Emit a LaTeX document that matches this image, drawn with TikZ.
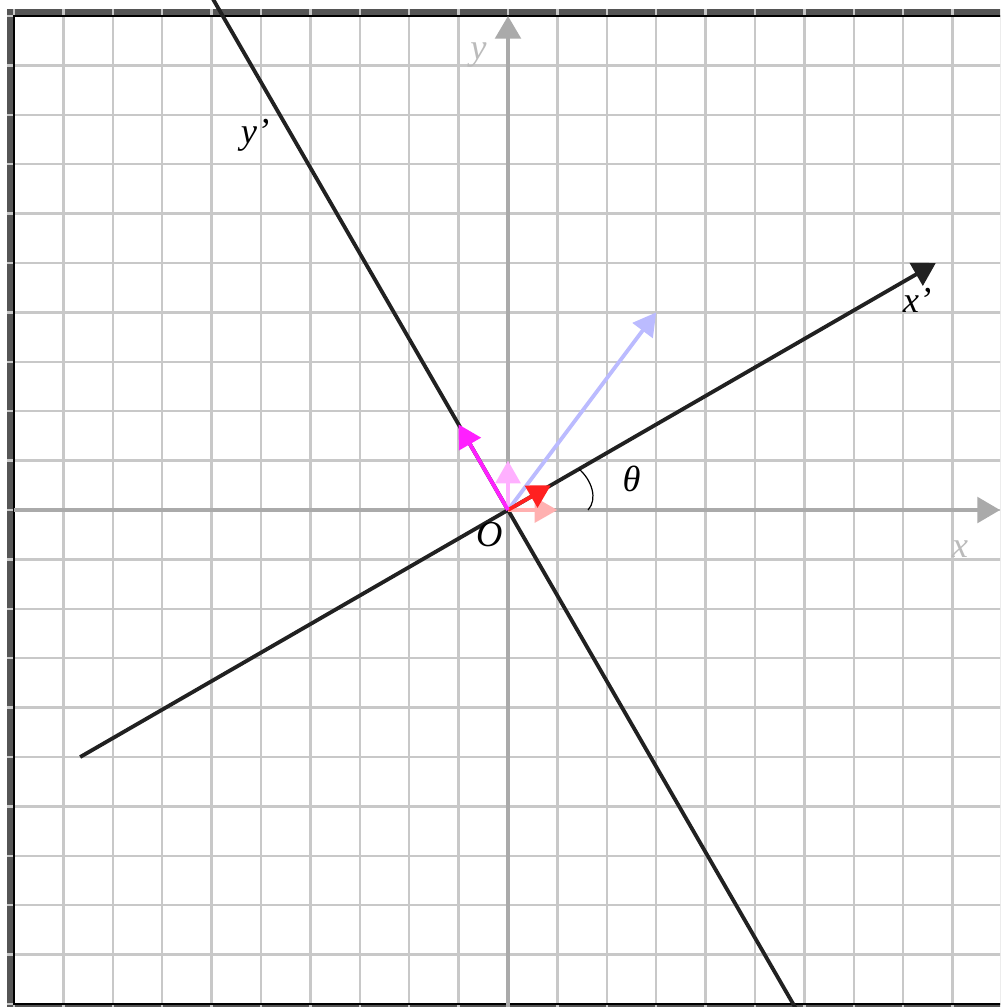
\documentclass[tikz,border=0pt]{standalone}
\usepackage{fontspec}
\setmainfont{Liberation Serif}
\usetikzlibrary{arrows.meta}
\definecolor{marco}{HTML}{555555}
\definecolor{rejillagris}{HTML}{C8C8C8}
\definecolor{ejegris}{HTML}{AAAAAA}
\definecolor{rotulogris}{HTML}{BBBBBB}
\definecolor{lavanda}{HTML}{BBBBFF}
\definecolor{rosa}{HTML}{FFB0FF}
\definecolor{rojoclaro}{HTML}{FFB0B0}
\definecolor{rojo}{HTML}{FF2020}
\definecolor{fucsia}{HTML}{FF20FF}
\tikzset{
  rejilla/.style  = {draw=rejillagris, line width=1.4pt},
  eje/.style      = {draw=ejegris, line width=2pt, -{Triangle[length=4.6mm, width=5.2mm]}},
  ejerot/.style   = {draw=black!87, line width=2.2pt},
  vector/.style   = {line width=2.2pt, -{Triangle[length=4.6mm, width=5mm]}},
  etiqueta/.style = {font=\fontsize{21}{25}\selectfont\itshape, inner sep=0pt},
  flecha/.style   = {-{Triangle[length=4.6mm, width=5.2mm]}}
}

\begin{document}
\begin{tikzpicture}
    \clip (-10.283,-10.06) rectangle (9.96,10.324);
    \fill[marco] (-10.14,-10.3) rectangle (10.3,10.14);
    \fill[white] (-10,-10) rectangle (10,10);
    \draw[rejilla] (-10.14,-10.3) grid (10.3,10.14);
    \draw[black, line width=0.7pt] (-10,-10) rectangle (10,10);

    \coordinate (O) at (0,0);
    \coordinate (xizq) at (-10,0);
    \coordinate (xder) at (9.96,0);
    \coordinate (yinf) at (0,-10.3);
    \coordinate (ysup) at (0,10);
    \coordinate (xpini) at (210:10);
    \coordinate (xpfin) at (30:10);
    \coordinate (ypini) at (300:12);
    \coordinate (ypfin) at (120:12);
    \coordinate (ex) at (1,0);
    \coordinate (ey) at (0,1);
    \coordinate (u) at (3,4);
    \coordinate (exp) at (30:1);
    \coordinate (eyp) at (120:2);

    \draw[eje] (xizq) -- (xder);
    \draw[eje] (yinf) -- (ysup);
    \draw[ejerot, flecha] (xpini) -- (xpfin);
    \draw[ejerot] (ypini) -- (ypfin);
    \draw[vector, rojoclaro] (O) -- (ex);
    \draw[vector, rosa] (O) -- (ey);
    \draw[vector, lavanda] (O) -- (u);
    \draw[vector, rojo] (O) -- (exp);
    \draw[vector, fucsia] (O) -- (eyp);
    \draw[line width=0.7pt] (30:1.66) .. controls (1.7,0.6) and (1.82,0.22) .. (0:1.62);

    \node[etiqueta, text=rotulogris] (rotx) at (9.15,-0.8) {x};
    \node[etiqueta, text=rotulogris] (roty) at (-0.6,9.2) {y};
    \node[etiqueta] (rotxp) at (8.28,4.25) {x’};
    \node[etiqueta] (rotyp) at (-5.12,7.58) {y’};
    \node[etiqueta] (rotO) at (-0.38,-0.49) {O};
    \node[etiqueta] (rottheta) at (2.5,0.63) {θ};
\end{tikzpicture}
\end{document}
